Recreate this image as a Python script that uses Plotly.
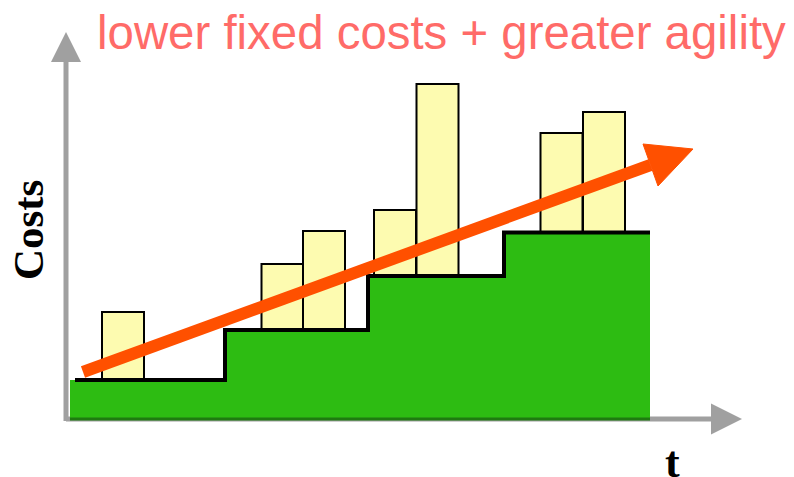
import plotly.graph_objects as go

# ---- data (time units on x, cost units on y) ----
STEP_T = [0.4, 15.9, 30.2, 43.8, 58.4]          # fixed-cost step boundaries
STEP_COST = [3.9, 8.9, 14.3, 18.65, 18.65]      # fixed-cost levels
BAR_T = [5.7, 21.65, 25.8, 32.9, 37.15, 49.55, 53.8]
BAR_TOP = [10.7, 15.5, 18.8, 20.9, 33.5, 28.6, 30.7]
BAR_BASE = [3.9, 8.9, 8.9, 14.3, 14.3, 18.65, 18.65]
TREND_T = [1.7, 58.45]
TREND_COST = [4.7, 25.4]
HEAD_T = [57.7, 62.7, 59.2, 57.7]
HEAD_COST = [27.5, 27.0, 23.3, 27.5]
Y_AXIS_END = 35.7
X_AXIS_END = 64.5

TITLE = "lower fixed costs + greater agility"
Y_LABEL = "Costs"
X_LABEL = "t"

GREEN = "#2DBC12"
YELLOW = "#FDFBB0"
ORANGE = "#FF5000"
GREY = "#A0A0A0"

fig = go.Figure()

# bars of variable demand
fig.add_trace(go.Bar(
    x=BAR_T,
    y=[t - b for t, b in zip(BAR_TOP, BAR_BASE)],
    base=BAR_BASE,
    width=4.2,
    marker=dict(color=YELLOW, line=dict(color="black", width=2)),
    hoverinfo="skip",
))

# green fixed-cost area
fig.add_trace(go.Scatter(
    x=STEP_T, y=STEP_COST, mode="lines", line_shape="hv",
    line=dict(width=0, color=GREEN), fill="tozeroy", fillcolor=GREEN,
    hoverinfo="skip",
))
# dark bottom edge
fig.add_trace(go.Scatter(
    x=[STEP_T[0], STEP_T[-1]], y=[0, 0], mode="lines",
    line=dict(color="#1F7A10", width=3), hoverinfo="skip",
))
# black step outline
fig.add_trace(go.Scatter(
    x=[STEP_T[0] + 0.5] + STEP_T[1:], y=STEP_COST, mode="lines", line_shape="hv",
    line=dict(color="black", width=4), hoverinfo="skip",
))

# orange trend arrow
fig.add_trace(go.Scatter(
    x=TREND_T, y=TREND_COST, mode="lines",
    line=dict(color=ORANGE, width=12), hoverinfo="skip",
))
fig.add_trace(go.Scatter(
    x=HEAD_T, y=HEAD_COST, mode="lines", fill="toself", fillcolor=ORANGE,
    line=dict(color=ORANGE, width=1), hoverinfo="skip",
))

# axis arrows (shapes below the traces)
shapes = [
    dict(type="line", xref="x", yref="y", x0=0, y0=-0.2, x1=0, y1=Y_AXIS_END,
         line=dict(color=GREY, width=5), layer="below"),
    dict(type="path", xref="x", yref="y",
         path=f"M -1.5 {Y_AXIS_END} L 1.5 {Y_AXIS_END} L 0 {Y_AXIS_END + 3.0} Z",
         fillcolor=GREY, line=dict(width=0), layer="below"),
    dict(type="line", xref="x", yref="y", x0=0, y0=0, x1=X_AXIS_END, y1=0,
         line=dict(color=GREY, width=5), layer="below"),
    dict(type="path", xref="x", yref="y",
         path=f"M {X_AXIS_END} 1.55 L {X_AXIS_END} -1.55 L {X_AXIS_END + 3.1} 0 Z",
         fillcolor=GREY, line=dict(width=0), layer="below"),
]

annotations = [
    dict(text=TITLE, x=37.5, y=38.7, xref="x", yref="y", showarrow=False,
         xanchor="center", yanchor="middle",
         font=dict(family="Liberation Sans, Arial", size=47.4, color="#FF6B68")),
    dict(text=f"<b>{Y_LABEL}</b>", x=-3.8, y=18.9, xref="x", yref="y", showarrow=False,
         textangle=-90, xanchor="center", yanchor="middle",
         font=dict(family="Liberation Serif, Times New Roman", size=43, color="black")),
    dict(text=f"<b>{X_LABEL}</b>", x=60.6, y=-4.3, xref="x", yref="y", showarrow=False,
         xanchor="center", yanchor="middle",
         font=dict(family="Liberation Serif, Times New Roman", size=44, color="black")),
]

# the page body adds an 8px offset; size and ranges compensate for it
fig.update_layout(
    width=786, height=469,
    margin=dict(l=0, r=0, t=0, b=0),
    paper_bgcolor="white", plot_bgcolor="white",
    showlegend=False,
    shapes=shapes, annotations=annotations,
    xaxis=dict(range=[-5.8, 72.8], visible=False, fixedrange=True),
    yaxis=dict(range=[-5.8, 41.1], visible=False, fixedrange=True),
)

fig.write_html("out.html")
